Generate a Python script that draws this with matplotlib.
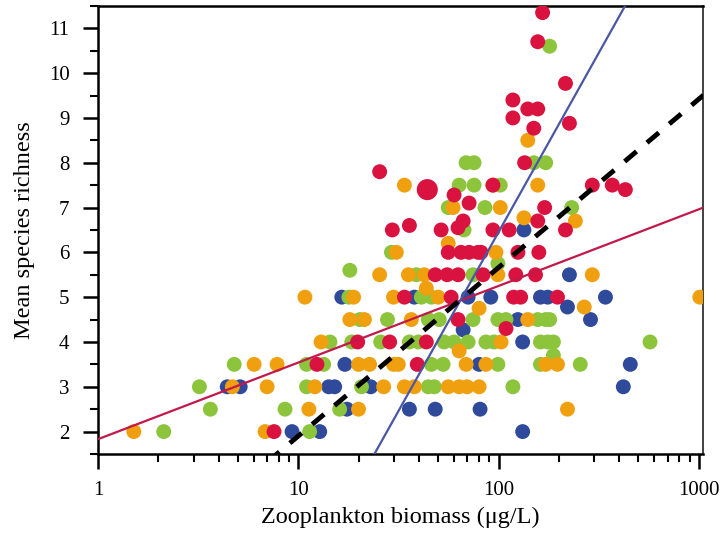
import numpy as np
import matplotlib
matplotlib.use("Agg")
import matplotlib.pyplot as plt
from matplotlib.ticker import FixedLocator, FixedFormatter, NullFormatter

plt.rcParams["font.family"] = ["Liberation Serif", "DejaVu Serif"]

# biomass (ug/L) and mean species richness, by group colour
red_x = [7.57, 12.4, 19.8, 28.6, 43.6, 33.9, 39.3, 62.8, 58.0, 119, 129, 197, 109,
         48.3, 55.4, 62.8, 83.7, 122, 153, 56.1, 65.0, 71.3, 79.0, 81.8, 125, 159,
         29.5, 35.9, 51.7, 93.8, 113, 216, 66.6, 62.8, 157, 60.0, 71.3, 170, 25.5,
         135, 93.8, 294, 370, 430, 150, 118, 118, 140, 157, 226, 216, 157, 166]
red_y = [2.0, 3.5, 4.0, 4.0, 4.0, 5.0, 3.5, 4.5, 5.0, 5.0, 5.0, 5.0, 4.3,
         5.5, 5.5, 5.5, 5.5, 5.5, 5.5, 6.0, 6.0, 6.0, 6.0, 6.0, 6.0, 6.0,
         6.5, 6.6, 6.5, 6.5, 6.5, 6.5, 6.7, 6.55, 6.7, 7.28, 7.1, 7.0, 7.8,
         8.0, 7.5, 7.5, 7.5, 7.4, 8.77, 9.0, 9.4, 9.2, 9.2, 8.88, 9.77, 10.7, 11.35]

big_x = [44.1]
big_y = [7.4]

orange_x = [1.51, 6.83, 11.3, 20.0, 221, 4.69, 6.99, 12.1, 26.7, 33.9, 38.0, 56.1,
            63.6, 69.7, 80.0, 6.02, 7.84, 20.0, 22.7, 29.9, 31.6, 68.9, 86.5, 172,
            197, 13.0, 103, 18.1, 21.4, 36.7, 140, 268, 10.8, 18.9, 29.9, 50.0, 1012,
            25.5, 35.5, 42.6, 99.3, 294, 30.9, 97.1, 56.1, 134, 242, 59.3, 102, 33.9,
            93.8, 157, 140, 63.6, 80.0, 43.6]
orange_y = [2.0, 2.0, 2.5, 2.5, 2.5, 3.0, 3.0, 3.0, 3.0, 3.0, 3.0, 3.0,
            3.0, 3.0, 3.0, 3.5, 3.5, 3.5, 3.5, 3.5, 3.5, 3.5, 3.5, 3.5,
            3.5, 4.0, 4.0, 4.5, 4.5, 4.5, 4.5, 4.78, 5.0, 5.0, 5.0, 5.0, 5.0,
            5.5, 5.5, 5.5, 5.5, 5.5, 6.0, 6.0, 6.2, 6.77, 6.7, 7.0, 7.0, 7.5,
            7.5, 7.5, 8.5, 3.8, 4.75, 5.2]

green_x = [2.13, 11.4, 3.64, 8.59, 16.1, 3.21, 11.0, 20.7, 44.6, 47.8, 118, 4.79,
           11.0, 13.4, 46.2, 52.9, 99.3, 162, 256, 14.4, 18.5, 25.8, 35.9, 39.8,
           53.5, 60.0, 70.5, 86.5, 94.9, 162, 176, 188, 571, 20.3, 27.9, 44.6, 50.6,
           74.6, 99.3, 109, 157, 172, 180, 17.9, 41.2, 46.2, 18.1, 38.9, 74.6, 29.2,
           67.3, 56.1, 85.6, 232, 63.6, 75.5, 102, 68.9, 75.5, 150, 172, 180, 188, 99.3]
green_y = [2.0, 2.0, 2.5, 2.5, 2.5, 3.0, 3.0, 3.0, 3.0, 3.0, 3.0, 3.5,
           3.5, 3.5, 3.5, 3.5, 3.5, 3.5, 3.5, 4.0, 4.0, 4.0, 4.0, 4.0,
           4.0, 4.0, 4.0, 4.0, 4.0, 4.0, 4.0, 4.0, 4.0, 4.5, 4.5, 4.5, 4.5,
           4.5, 4.5, 4.5, 4.5, 4.5, 4.5, 5.0, 5.0, 5.0, 5.6, 5.5, 5.5, 6.0,
           6.5, 7.0, 7.0, 7.0, 7.5, 7.5, 7.5, 8.0, 8.0, 8.0, 8.0, 10.6, 3.7, 5.75]

blue_x = [9.31, 12.8, 132, 17.5, 35.9, 48.3, 80.9, 4.42, 5.13, 14.2, 15.2, 23.0,
          420, 17.1, 80.0, 455, 132, 125, 288, 16.5, 38.0, 70.5, 91.5, 162, 176,
          342, 226, 134, 66.6, 221]
blue_y = [2.0, 2.0, 2.0, 2.5, 2.5, 2.5, 2.5, 3.0, 3.0, 3.0, 3.0, 3.0,
          3.0, 3.5, 3.5, 3.5, 4.0, 4.5, 4.5, 5.0, 5.0, 5.0, 5.0, 5.0, 5.0,
          5.0, 5.5, 6.5, 4.27, 4.78]

# fitted lines: richness = a + b * log10(biomass)
red_fit = (1.83, 1.71)
blue_fit = (-9.53, 7.99)
all_fit = (-1.86, 3.76)

c_red = "#d9123f"
c_orange = "#f0a00f"
c_green = "#8cc43c"
c_blue = "#2f4a9b"

fig = plt.figure(figsize=(7.22, 5.36), dpi=100)
ax = fig.add_axes([0.1357, 0.153, 0.838, 0.836])

ms = 115
ax.scatter(blue_x, blue_y, s=ms, color=c_blue, edgecolors="none", zorder=3)
ax.scatter(green_x, green_y, s=ms, color=c_green, edgecolors="none", zorder=3)
ax.scatter(orange_x, orange_y, s=ms, color=c_orange, edgecolors="none", zorder=3)
ax.scatter(red_x, red_y, s=ms, color=c_red, edgecolors="none", zorder=3)
ax.scatter(big_x, big_y, s=230, color=c_red, edgecolors="none", zorder=3)

xx = np.logspace(0, np.log10(1100), 200)
ax.plot(xx, red_fit[0] + red_fit[1] * np.log10(xx), color="#c2184a", lw=1.6, zorder=4)
ax.plot(xx, blue_fit[0] + blue_fit[1] * np.log10(xx), color="#4a56a6", lw=1.6, zorder=4)
ax.plot(xx, all_fit[0] + all_fit[1] * np.log10(xx), color="black", lw=3.5,
        dashes=(3.2, 2.8), zorder=5)

ax.set_xscale("log")
ax.set_xlim(1, 1050)
ax.set_ylim(1.5, 11.5)

ax.xaxis.set_major_locator(FixedLocator([1, 10, 100, 1000]))
ax.xaxis.set_major_formatter(FixedFormatter(["1", "10", "100", "1000"]))
minors = [m * d for d in [1, 10, 100] for m in range(2, 10)]
ax.xaxis.set_minor_locator(FixedLocator(minors))
ax.xaxis.set_minor_formatter(NullFormatter())
ax.yaxis.set_major_locator(FixedLocator(list(range(2, 12))))
ax.yaxis.set_minor_locator(FixedLocator([v + 0.5 for v in range(1, 12)]))

ax.tick_params(which="major", direction="out", length=10.5, width=1.8, labelsize=15)
ax.tick_params(axis="y", which="major", pad=10)
ax.tick_params(axis="x", which="major", pad=9)
ax.tick_params(which="minor", direction="out", length=6, width=1.5)
for side in ["left", "bottom", "top"]:
    ax.spines[side].set_linewidth(1.8)
ax.spines["right"].set_linewidth(1.3)
ax.spines["right"].set_color("#333333")

ax.set_xlabel("Zooplankton biomass (\u03bcg/L)", fontsize=17.5, labelpad=5)
ax.set_ylabel("Mean species richness", fontsize=17.5, labelpad=10)

fig.savefig("out.png", dpi=100)
